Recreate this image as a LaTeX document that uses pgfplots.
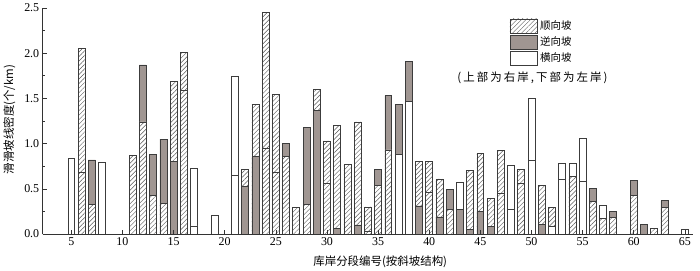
\documentclass[border=0pt]{standalone}
\usepackage{pgfplots}
\pgfplotsset{compat=1.18}
\usepackage{fontspec}
\setmainfont{Liberation Serif}
\newfontfamily\cjk{Noto Sans CJK SC}
\newfontfamily\cjkw[LetterSpace=18]{Noto Sans CJK SC}
\usetikzlibrary{patterns.meta}
\definecolor{barG}{RGB}{160,150,146}
\definecolor{edge}{RGB}{60,60,60}
\tikzset{
 hatchbar/.style={draw=edge, line width=0.7pt, fill=white,
   postaction={pattern color=black!65, pattern={Lines[angle=45,distance=3.2pt,line width=0.45pt]}}},
 graybar/.style={draw=edge, line width=0.7pt, fill=barG},
 whitebar/.style={draw=edge, line width=0.7pt, fill=white},
}
\pgfplotsset{boxlegend/.style={legend image code/.code={\draw[##1] (0pt,-7pt) rectangle (28pt,7pt);}}}
\begin{document}
\begin{tikzpicture}
\path (-40pt,-36pt) rectangle (660pt,235pt);
\begin{axis}[
 at={(0,0)}, anchor=south west,
 scale only axis, width=653pt, height=227pt,
 xmin=2.2, xmax=65.8, ymin=0, ymax=2.5,
 axis x line*=bottom, axis y line*=left,
 axis line style={line width=0.7pt, black!80},
 tick align=inside,
 major tick length=4pt, minor tick length=2.5pt,
 tick style={line width=0.6pt, black!80},
 xtick={5,10,...,65},
 ytick={0,0.5,...,2.5},
 minor y tick num=1,
 yticklabel style={/pgf/number format/.cd, fixed, fixed zerofill, precision=1},
 /pgf/number format/assume math mode=true,
 ticklabel style={font=\fontsize{12}{14}\selectfont},
 xlabel={\cjk 库岸分段编号(按斜坡结构)},
 ylabel={\cjk 滑滑坡线密度(个/km)},
 label style={font=\fontsize{11.5}{13}\selectfont},
 xlabel style={at={(rel axis cs:0.519,0)}, anchor=north, yshift=-18pt},
 ylabel style={at={(rel axis cs:0,0.507)}, anchor=south, yshift=24pt},
 axis on top,
 legend style={at={(axis cs:47.84,2.385)}, anchor=north west, draw=none, fill=none,
   font=\cjk\fontsize{10.5}{12}\selectfont, row sep=1.5pt, inner sep=0pt, cells={anchor=west}},
 legend cell align=left,
]
% upper parts (full height)
\addplot[ybar, bar width=0.68, bar shift=0pt, hatchbar, forget plot] coordinates {
 (6,2.05) (11,0.87) (15,1.69) (16,2.01) (22,0.71) (23,1.43) (24,2.45) (25,1.54)
 (27,0.29) (29,1.60) (30,1.03) (31,1.20) (32,0.77) (33,1.24) (34,0.30) (39,0.80)
 (40,0.80) (41,0.61) (44,0.70) (45,0.89) (46,0.39) (47,0.92) (49,0.71) (51,0.54)
 (52,0.29) (62,0.06)};
\addplot[ybar, bar width=0.68, bar shift=0pt, graybar, forget plot] coordinates {
 (7,0.82) (12,1.87) (13,0.88) (14,1.05) (26,1.00) (28,1.18) (35,0.71) (36,1.53)
 (37,1.43) (38,1.91) (42,0.49) (56,0.50) (58,0.25) (60,0.59) (61,0.11) (63,0.37)};
\addplot[ybar, bar width=0.68, bar shift=0pt, whitebar, forget plot] coordinates {
 (5,0.84) (8,0.79) (17,0.73) (19,0.21) (21,1.74) (43,0.57) (48,0.76) (50,1.50)
 (53,0.78) (54,0.78) (55,1.06) (57,0.32) (65,0.05)};
% lower parts
\addplot[ybar, bar width=0.68, bar shift=0pt, hatchbar, forget plot] coordinates {
 (6,0.68) (7,0.33) (12,1.24) (13,0.43) (14,0.34) (16,1.59) (24,0.95) (25,0.68)
 (26,0.86) (28,0.33) (30,0.56) (34,0.03) (35,0.54) (36,0.93) (40,0.46) (42,0.27)
 (47,0.45) (49,0.56) (54,0.64) (56,0.36) (57,0.17) (58,0.18) (60,0.43) (63,0.29)};
\addplot[ybar, bar width=0.68, bar shift=0pt, graybar, forget plot] coordinates {
 (15,0.80) (22,0.53) (23,0.86) (29,1.37) (31,0.06) (33,0.10) (39,0.31) (41,0.19)
 (43,0.27) (44,0.05) (45,0.25) (46,0.08) (51,0.11)};
\addplot[ybar, bar width=0.68, bar shift=0pt, whitebar, forget plot] coordinates {
 (17,0.09) (21,0.65) (37,0.88) (38,1.47) (48,0.27) (50,0.81) (52,0.08) (53,0.60) (55,0.58)};
\addlegendimage{hatchbar, boxlegend}
\addlegendentry{顺向坡}
\addlegendimage{graybar, boxlegend}
\addlegendentry{逆向坡}
\addlegendimage{whitebar, boxlegend}
\addlegendentry{横向坡}
\node[font=\cjkw\fontsize{11.5}{13}\selectfont, anchor=center] at (axis cs:50.1,1.725) {(上部为右岸,下部为左岸)};
\end{axis}
\end{tikzpicture}
\end{document}
